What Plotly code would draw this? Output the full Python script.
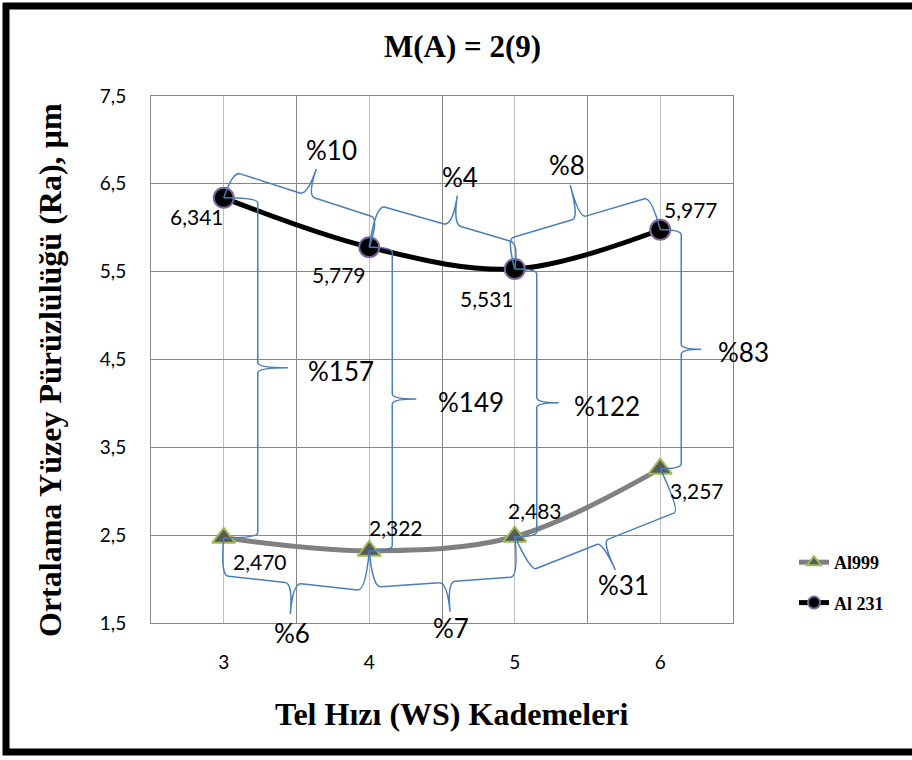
import math
import plotly.graph_objects as go

# ---------------- data ----------------
categories = [3, 4, 5, 6]
al999 = [2.470, 2.322, 2.483, 3.257]
al231 = [6.341, 5.779, 5.531, 5.977]
y_ticks = [1.5, 2.5, 3.5, 4.5, 5.5, 6.5, 7.5]
pct_al231 = ["%10", "%4", "%8"]          # between consecutive Al 231 points
pct_al999 = ["%6", "%7", "%31"]          # between consecutive Al999 points
pct_between = ["%157", "%149", "%122", "%83"]  # Al 231 vs Al999 at same step

title_text = "M(A) = 2(9)"
x_title = "Tel Hızı (WS) Kademeleri"
y_title = "Ortalama Yüzey Pürüzlülüğü (Ra), µm"

# ---------------- layout geometry ----------------
W, H = 912, 760
ML, MR, MT, MB = 151, 179, 96, 137
XR = [2.5, 6.5]
YR = [1.5, 7.5]
PW = W - ML - MR
PH = H - MT - MB


def d2p(x, y):
    return (ML + (x - XR[0]) / (XR[1] - XR[0]) * PW,
            MT + (YR[1] - y) / (YR[1] - YR[0]) * PH)


def p2d(px, py):
    return (XR[0] + (px - ML) / PW * (XR[1] - XR[0]),
            YR[1] - (py - MT) / PH * (YR[1] - YR[0]))


def p2paper(px, py):
    return ((px - ML) / PW, (H - MB - py) / PH)


def brace(p1, p2, side, w1, w2, t, r, m):
    (x1, y1), (x2, y2) = d2p(*p1), d2p(*p2)
    L = math.hypot(x2 - x1, y2 - y1)
    ux, uy = (x2 - x1) / L, (y2 - y1) / L
    nx, ny = -uy, ux
    if (side == "up" and ny > 0) or (side == "down" and ny < 0) or (side == "right" and nx < 0):
        nx, ny = -nx, -ny

    def P(u, v):
        return (x1 + ux * u + nx * v, y1 + uy * u + ny * v)

    mu = m * L
    wm = w1 + (w2 - w1) * m
    seq = [("M", [P(0, 0)]),
           ("Q", [P(0, w1), P(r, w1)]),
           ("L", [P(mu - r, wm)]),
           ("Q", [P(mu, wm), P(mu, wm + t)]),
           ("Q", [P(mu, wm), P(mu + r, wm)]),
           ("L", [P(L - r, w2)]),
           ("Q", [P(L, w2), P(L, 0)])]
    parts = []
    for cmd, pts in seq:
        coords = " ".join("%.5f,%.5f" % p2d(px, py) for px, py in pts)
        parts.append(cmd + coords)
    return " ".join(parts), P(mu, wm + t)


BRACE_COLOR = "#4A7EBB"
shapes = []
annotations = []

# styles: (w1, w2, tip, corner, tip fraction, label dx, label dy)
top_style = [(28, 30, 28, 8, 0.51, 15, -19), (42, 27, 30, 9, 0.54, 3, -19), (31, 34, 34, 7, 0.50, -3, -20)]
bot_style = [(38, 40, 31, 8, 0.50, 2, 19), (37, 40, 30, 8, 0.51, 1, 16), (38, 46, 31, 6, 0.48, 8, 15)]
vert_style = [(34, 30, 5, 18), (23, 24, 5, 20), (22, 22, 5, 13), (21, 20, 5, 15)]

PCT_FONT = dict(family="Lato", size=26, color="#000000")


def add_label(px, py, text, font, xanchor="center", textangle=0):
    ax, ay = p2paper(px, py)
    annotations.append(dict(x=ax, y=ay, xref="paper", yref="paper", text=text, showarrow=False,
                            xanchor=xanchor, yanchor="middle", textangle=textangle, font=font))


for i, lab in enumerate(pct_al231):
    w1, w2, t, r, m, dx, dy = top_style[i]
    path, tip = brace((categories[i], al231[i]), (categories[i + 1], al231[i + 1]), "up", w1, w2, t, r, m)
    shapes.append(dict(type="path", path=path, xref="x", yref="y", line=dict(color=BRACE_COLOR, width=1.5)))
    add_label(tip[0] + dx, tip[1] + dy, lab, PCT_FONT)

for i, lab in enumerate(pct_al999):
    w1, w2, t, r, m, dx, dy = bot_style[i]
    path, tip = brace((categories[i], al999[i]), (categories[i + 1], al999[i + 1]), "down", w1, w2, t, r, m)
    shapes.append(dict(type="path", path=path, xref="x", yref="y", line=dict(color=BRACE_COLOR, width=1.5)))
    add_label(tip[0] + dx, tip[1] + dy, lab, PCT_FONT)

for i, lab in enumerate(pct_between):
    w, t, r, dx = vert_style[i]
    path, tip = brace((categories[i], al231[i]), (categories[i], al999[i]), "right", w, w, t, r, 0.5)
    shapes.append(dict(type="path", path=path, xref="x", yref="y", line=dict(color=BRACE_COLOR, width=1.5)))
    add_label(tip[0] + dx, tip[1] + 3, lab, PCT_FONT, xanchor="left")

# data labels (offsets in px from point to label centre)
LBL_FONT = dict(family="Lato", size=21, color="#000000")
off231 = [(-27, -19), (-30, -27), (-28, -30), (31, 20)]
off999 = [(36, -24), (27, 23), (20, 26), (37, -22)]
for series, offs in ((al231, off231), (al999, off999)):
    for c, v, (dx, dy) in zip(categories, series, offs):
        annotations.append(dict(x=c, y=v, xref="x", yref="y", text=("%.3f" % v).replace(".", ","),
                                showarrow=False, xanchor="center", yanchor="middle",
                                xshift=dx, yshift=dy, font=LBL_FONT))

# titles
SERIF_B = "Liberation Serif"
add_label(462, 47, "<b>%s</b>" % title_text, dict(family=SERIF_B, size=31, color="#000"))
add_label(452, 714, "<b>%s</b>" % x_title, dict(family=SERIF_B, size=32, color="#000"))
add_label(50, 370, "<b>%s</b>" % y_title, dict(family=SERIF_B, size=32, color="#000"), textangle=-90)

# outer frame
bx0, by0 = p2paper(6, 6)
bx1, by1 = p2paper(930, 752)
shapes.append(dict(type="rect", xref="paper", yref="paper", x0=bx0, y0=by1, x1=bx1, y1=by0,
                   line=dict(color="#000000", width=7), layer="above"))

fig = go.Figure()
fig.add_trace(go.Scatter(
    x=categories, y=al999, mode="lines+markers", name="Al999", legendgroup="a",
    line=dict(color="#808080", width=5, shape="spline", smoothing=1),
    marker=dict(symbol="triangle-up", size=20, color="#595959", line=dict(color="#9BBB59", width=2)),
))
fig.add_trace(go.Scatter(
    x=categories, y=al231, mode="lines+markers", name="Al 231", legendgroup="b",
    line=dict(color="#000000", width=5, shape="spline", smoothing=1),
    marker=dict(symbol="circle", size=20, color="#000000", line=dict(color="#8064A2", width=2)),
))

lx, ly = p2paper(794, 544)
fig.update_layout(
    width=W, height=H,
    margin=dict(l=ML, r=MR, t=MT, b=MB, autoexpand=False),
    paper_bgcolor="white", plot_bgcolor="white",
    separators=",.",
    showlegend=True,
    legend=dict(x=lx, y=ly, xanchor="left", yanchor="top", bgcolor="rgba(0,0,0,0)",
                font=dict(family=SERIF_B, size=18, color="#000", weight="bold"),
                itemsizing="constant", tracegroupgap=14),
    xaxis=dict(range=XR, tickmode="linear", tick0=3, dtick=1, showgrid=True, gridcolor="#BFBFBF",
               gridwidth=1, zeroline=False, showline=True, mirror=True, linecolor="#868686",
               ticks="", ticklabelstandoff=22, tickfont=dict(family="Lato", size=19, color="#000"),
               minor=dict(tickmode="linear", tick0=2.5, dtick=1, showgrid=True, gridcolor="#868686",
                          gridwidth=1, ticks="")),
    yaxis=dict(range=YR, tickmode="array", tickvals=y_ticks, tickformat=".1f", showgrid=True,
               gridcolor="#868686", gridwidth=1, zeroline=False, showline=True, mirror=True,
               linecolor="#868686", ticks="", ticklabelstandoff=20,
               tickfont=dict(family="Lato", size=19, color="#000")),
    shapes=shapes,
    annotations=annotations,
)

fig.write_html("out.html", config={"displayModeBar": False},
               post_script="document.body.style.margin='0';document.body.style.overflow='hidden';")
